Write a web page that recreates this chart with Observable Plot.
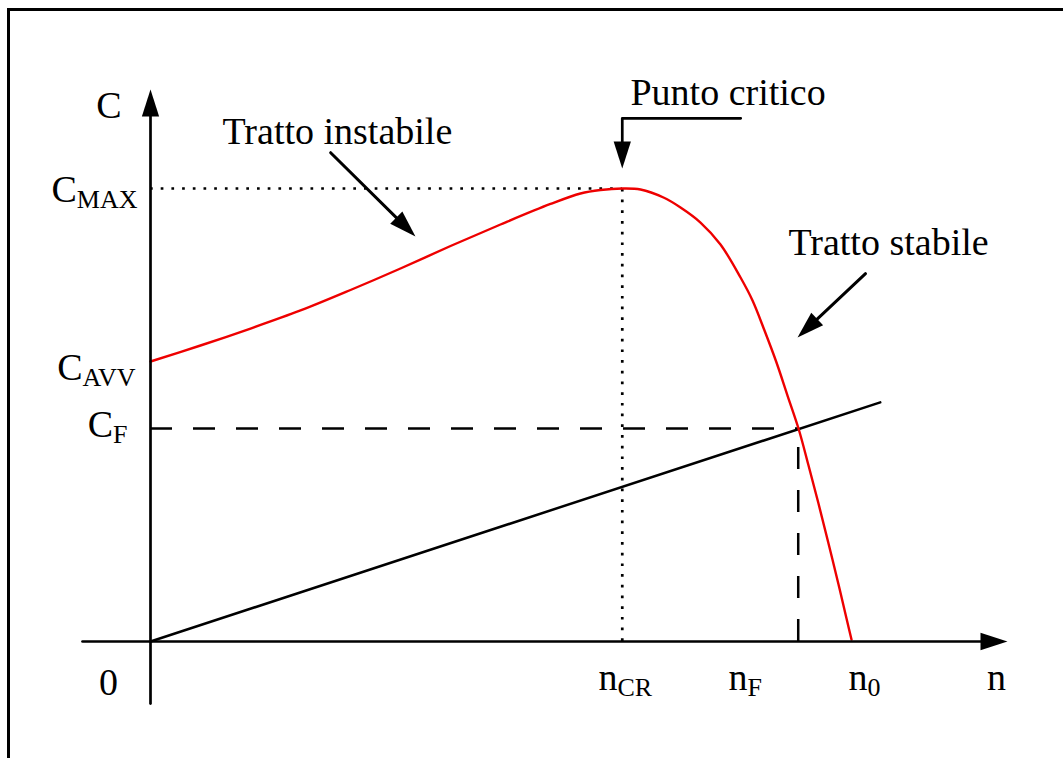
<!DOCTYPE html>
<html><head><meta charset="utf-8">
<script src="https://cdn.jsdelivr.net/npm/d3@7"></script>
<script src="https://cdn.jsdelivr.net/npm/@observablehq/plot@0.6"></script>
<style>
html,body{margin:0;padding:0;background:#fff;}
#wrap{position:relative;width:1063px;height:758px;overflow:hidden;}
#frame{position:absolute;left:7px;top:8px;width:1070px;height:770px;border-top:3px solid #000;border-left:3px solid #000;box-sizing:border-box;}
#chart{position:absolute;left:0;top:0;}
</style></head><body>
<div id="wrap"><div id="frame"></div><div id="chart"></div></div>
<script>
// ---- Data (n = speed, C = torque; arbitrary units, n0 = 100, CMAX = 100) ----
const curveN = [0, 7.13, 14.27, 21.40, 28.53, 35.66, 42.80, 49.93, 57.06, 61.34, 64.19, 67.3, 69.90, 73.18, 75.61, 78.46, 81.31, 84.17, 85.88, 87.59, 89.30, 90.87, 92.44, 93.87, 95.29, 96.72, 98.15, 99.29, 100];
const curveC = [61.81, 65.34, 69.09, 73.07, 77.59, 82.34, 87.31, 92.05, 96.58, 98.90, 99.67, 100, 99.78, 98.01, 95.81, 92.49, 87.64, 80.35, 75.28, 68.65, 61.59, 54.30, 47.02, 38.85, 30.46, 21.63, 12.58, 5.08, 0.44];
const loadN = [0, 104.1];
const loadC = [0, 52.8];
const cTickLabels = ["C_MAX", "C_AVV", "C_F"];
const cTickValues = [100, 62, 47];
const nTickLabels = ["n_CR", "n_F", "n_0"];
const nTickValues = [67.3, 92.4, 100];
const axisLabels = ["C", "n", "0"];
const annotationTexts = ["Tratto instabile", "Punto critico", "Tratto stabile"];
const annotationN = [10.27, 68.47, 91.0];
const annotationC = [109.9, 118.5, 85.4];
const arrowInstabile = [[25.7, 107.9], [37.8, 89.4]];
const arrowCritico = [[84.2, 115.5], [67.3, 115.5], [67.3, 104.4]];
const arrowStabile = [[102.0, 81.2], [92.3, 67.1]];
const axisYPath = [[0, -13.7], [0, 121.85]];
const axisXPath = [[-9.7, 0], [122.25, 0]];

// ---- Scales ----
const xOpt = {domain: [0, 100], range: [150, 851]};
const yOpt = {domain: [0, 100], range: [641, 188]};
const X = Plot.scale({x: xOpt});
const Y = Plot.scale({y: yOpt});
const FONT = "'Liberation Serif', 'Times New Roman', serif";
const FS = 38;

const headLen = 27;
const arrowHead = {
  draw(ctx, size) {
    const k = Math.sqrt(size / Math.PI);
    ctx.moveTo(0, 0);
    ctx.lineTo(-0.32 * k, k);
    ctx.lineTo(0.32 * k, k);
    ctx.closePath();
  }
};

function arrowMarks(pts, sw) {
  const a = pts[pts.length - 2], b = pts[pts.length - 1];
  const dxp = X.apply(b[0]) - X.apply(a[0]);
  const dyp = Y.apply(b[1]) - Y.apply(a[1]);
  const len = Math.hypot(dxp, dyp);
  const angle = Math.atan2(dxp, -dyp) * 180 / Math.PI;
  const back = 12;
  const endPx = [X.apply(b[0]) - dxp / len * back, Y.apply(b[1]) - dyp / len * back];
  const shaft = pts.slice(0, -1).concat([[X.invert(endPx[0]), Y.invert(endPx[1])]]);
  return [
    Plot.line(shaft, {x: d => d[0], y: d => d[1], stroke: "black", strokeWidth: sw, curve: "linear"}),
    Plot.dot([b], {x: d => d[0], y: d => d[1], symbol: arrowHead, r: headLen, rotate: angle, fill: "black", stroke: "none"})
  ];
}

const curve = curveN.map((n, i) => ({n, c: curveC[i]}));
const load = loadN.map((n, i) => ({n, c: loadC[i]}));

const cLabelOffsets = [[-13, 1], [-15, 7], [-23, -4]];
const nLabelOffsets = [[3, 48], [-53, 48], [13, 48]];

const marks = [];
// reference lines
marks.push(Plot.ruleY([cTickValues[0]], {y: d => d, x1: 0, x2: nTickValues[0], stroke: "black", strokeWidth: 2.7, strokeDasharray: "2.7,8"}));
marks.push(Plot.ruleX([nTickValues[0]], {x: d => d, y1: 0, y2: cTickValues[0], stroke: "black", strokeWidth: 2.7, strokeDasharray: "2.7,8"}));
marks.push(Plot.ruleY([cTickValues[2]], {y: d => d, x1: 0, x2: nTickValues[1], stroke: "black", strokeWidth: 2.5, strokeDasharray: "22,21"}));
marks.push(Plot.ruleX([nTickValues[1]], {x: d => d, y1: 0, y2: cTickValues[2], stroke: "black", strokeWidth: 2.5, strokeDasharray: "22,21"}));
// load line
marks.push(Plot.line(load, {x: "n", y: "c", stroke: "black", strokeWidth: 2.5}));
// motor curve
marks.push(Plot.line(curve, {x: "n", y: "c", stroke: "#ee0000", strokeWidth: 2.4, curve: "catmull-rom"}));
// axes
marks.push(...arrowMarks(axisYPath, 2.7));
marks.push(...arrowMarks(axisXPath, 2.7));
// annotation arrows
marks.push(...arrowMarks(arrowInstabile, 3));
marks.push(...arrowMarks(arrowCritico, 2.7));
marks.push(...arrowMarks(arrowStabile, 3));
// tick labels
cTickLabels.forEach((t, i) => {
  marks.push(Plot.text([t], {x: 0, y: cTickValues[i], text: d => d, textAnchor: "end", lineAnchor: "middle", dx: cLabelOffsets[i][0], dy: cLabelOffsets[i][1], fontSize: FS, fontFamily: FONT, fill: "black"}));
});
nTickLabels.forEach((t, i) => {
  marks.push(Plot.text([t], {x: nTickValues[i], y: 0, text: d => d, textAnchor: "middle", lineAnchor: "bottom", dx: nLabelOffsets[i][0], dy: nLabelOffsets[i][1], fontSize: FS, fontFamily: FONT, fill: "black"}));
});
// axis labels
marks.push(Plot.text([axisLabels[0]], {x: axisYPath[1][0], y: axisYPath[1][1], text: d => d, textAnchor: "end", lineAnchor: "bottom", dx: -29, dy: 28, fontSize: FS, fontFamily: FONT, fill: "black"}));
marks.push(Plot.text([axisLabels[1]], {x: axisXPath[1][0], y: axisXPath[1][1], text: d => d, textAnchor: "middle", lineAnchor: "bottom", dx: -11, dy: 48, fontSize: FS, fontFamily: FONT, fill: "black"}));
marks.push(Plot.text([axisLabels[2]], {x: 0, y: 0, text: d => d, textAnchor: "middle", lineAnchor: "bottom", dx: -42, dy: 53, fontSize: FS, fontFamily: FONT, fill: "black"}));
// annotation texts
marks.push(Plot.text(annotationTexts.map((t, i) => ({t, n: annotationN[i], c: annotationC[i]})), {x: "n", y: "c", text: "t", textAnchor: "start", lineAnchor: "bottom", fontSize: FS, fontFamily: FONT, fill: "black"}));

const svg = Plot.plot({
  width: 1063, height: 758, margin: 0,
  x: {...xOpt, axis: null},
  y: {...yOpt, axis: null},
  style: {background: "transparent", fontFamily: FONT, overflow: "visible"},
  marks
});

// subscripts
d3.select(svg).selectAll("text").each(function () {
  const t = this.textContent;
  const i = t.indexOf("_");
  if (i < 0) return;
  this.textContent = "";
  const sel = d3.select(this);
  sel.append("tspan").text(t.slice(0, i));
  sel.append("tspan").attr("font-size", 26).attr("dy", 6).text(t.slice(i + 1));
});

document.getElementById("chart").appendChild(svg);
</script>
</body></html>
